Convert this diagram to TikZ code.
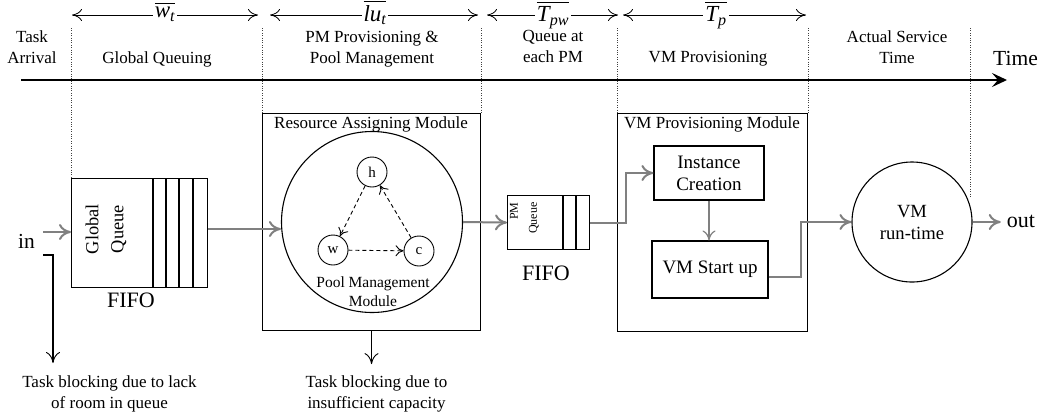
\documentclass[tikz,border=0pt]{standalone}
\usepackage{amsmath}
\usepackage{fontspec}
\setmainfont{Liberation Serif}
\usetikzlibrary{arrows.meta,calc}
\definecolor{linkgray}{gray}{0.5}
\begin{document}
\begin{tikzpicture}[x=1pt,y=-1pt,
  txt/.style={inner sep=0pt, align=center, font=\fontsize{17}{21}\selectfont},
  frame/.style={draw, line width=1.1pt, inner sep=0pt},
  state/.style={circle, draw, line width=0.9pt, minimum size=30pt, inner sep=0pt, font=\fontsize{15}{17}\selectfont},
  divider/.style={draw=black!75, line width=0.8pt, dash pattern=on 0.8pt off 1.6pt},
  timeaxis/.style={line width=2.6pt, -{Stealth[length=15pt,width=14pt,inset=6pt]}},
  span/.style={line width=0.8pt, {Computer Modern Rightarrow[length=10pt,width=12pt]}-{Computer Modern Rightarrow[length=10pt,width=12pt]}},
  spanlbl/.style={fill=white, inner xsep=2pt, inner ysep=0pt, font=\fontsize{23}{25}\selectfont},
  gconn/.style={draw=linkgray, line width=2pt, -{Computer Modern Rightarrow[length=12pt,width=16pt]}},
  gthin/.style={draw=linkgray, line width=1.2pt, -{Computer Modern Rightarrow[length=10pt,width=13pt]}},
  bconn/.style={line width=1.1pt, -{Computer Modern Rightarrow[length=11pt,width=14pt,line width=0.9pt]}},
  dasharrow/.style={line width=0.9pt, dash pattern=on 4pt off 3pt, -{Computer Modern Rightarrow[length=8pt,width=11pt]}}
]
\useasboundingbox (0,0) rectangle (1043,416);

% ---- queue at the front ----
\node[frame, minimum width=136pt, minimum height=109pt, anchor=north west] (gq) at (71,178) {};
\foreach \sx in {153,166,179,193} \draw[line width=1.1pt] (\sx,178) -- (\sx,287);
\node[txt, rotate=90, font=\fontsize{18.4}{25}\selectfont] (gqlbl) at (106,229) {Global\\Queue};
\node[txt, font=\fontsize{22}{24}\selectfont] (fifo1) at (131,300) {FIFO};

% ---- resource assigning module ----
\node[frame, minimum width=218pt, minimum height=217pt, anchor=north west] (ram) at (262,113) {};
\node[txt] (ramlbl) at (371,124.5) {Resource Assigning Module};
\node[circle, draw, line width=1.1pt, minimum size=181pt, inner sep=0pt] (pool) at (372,222) {};
\node[state] (h) at (372,172) {h};
\node[state] (w) at (333,250) {w};
\node[state] (c) at (419,251) {c};
\node[txt, font=\fontsize{15.5}{19}\selectfont] (poollbl) at (373,292) {Pool Management\\Module};
\draw[dasharrow] (h) -- (w);
\draw[dasharrow] (w) -- (c);
\draw[dasharrow] (c) -- (h);

% ---- queue at each PM ----
\node[frame, minimum width=82pt, minimum height=54pt, anchor=north west] (pmq) at (507,195) {};
\foreach \sx in {563,576} \draw[line width=1.1pt] (\sx,195) -- (\sx,249);
\node[txt, rotate=90, align=right, font=\fontsize{12}{19}\selectfont] (pmqlbl) at (524.5,218) {PM\\Queue};
\node[txt, font=\fontsize{22}{24}\selectfont] (fifo2) at (546,273.5) {FIFO};

% ---- VM provisioning module ----
\node[frame, minimum width=190pt, minimum height=218pt, anchor=north west] (vmm) at (617,113) {};
\node[txt] (vmmlbl) at (712,124) {VM Provisioning Module};
\node[frame, minimum width=110pt, minimum height=54pt, align=center, font=\fontsize{19}{22}\selectfont] (ic) at (709,173) {Instance\\Creation};
\node[frame, minimum width=116pt, minimum height=57pt, font=\fontsize{19}{22}\selectfont] (vs) at (710,269.5) {VM Start up};

% ---- run time ----
\node[circle, draw, line width=1.1pt, minimum size=120pt, inner sep=0pt, align=center, font=\fontsize{18.6}{22}\selectfont] (vmr) at (912,222) {VM\\run-time};
\node[txt, font=\fontsize{22}{24}\selectfont] (out) at (1021,221.6) {out};
\node[txt, font=\fontsize{21.4}{24}\selectfont] (inlbl) at (26.5,241) {in};

% ---- phase dividers ----
\draw[divider] (gq.north west |- 0,28) -- (gq.north west);
\draw[divider] (ram.north west |- 0,28) -- (ram.north west);
\draw[divider] (ram.north east |- 0,28) -- (ram.north east);
\draw[divider] (vmm.north west |- 0,28) -- (vmm.north west);
\draw[divider] (vmm.north east |- 0,28) -- (vmm.north east);
\draw[divider] (970,28) -- (970,197);

% ---- time axis and phase headings ----
\coordinate (t0) at (21,80);
\coordinate (t1) at (1007,80);
\draw[timeaxis] (t0) -- (t1);
\node[txt, font=\fontsize{21.5}{24}\selectfont] (timelbl) at (1015.5,58) {Time};
\node[txt] (ph1) at (32,46.8) {Task\\Arrival};
\node[txt] (ph2) at (157,59) {Global Queuing};
\node[txt] (ph3) at (372,48.7) {PM Provisioning \&\\Pool Management};
\node[txt] (ph4) at (553,46.8) {Queue at\\each PM};
\node[txt] (ph5) at (708,59) {VM Provisioning};
\node[txt] (ph6) at (897,46.8) {Actual Service\\Time};

% ---- mean durations ----
\draw[span] (72,15) -- (258,15);
\node[spanlbl] (lw) at (165,12) {$\overline{\textit{w}_{\textit{t}}}$};
\draw[span] (270,15) -- (478,15);
\node[spanlbl] (llu) at (375,12.5) {$\overline{\textit{lu}_{\textit{t}}}$};
\draw[span] (487,15) -- (618,15);
\node[spanlbl] (lpw) at (553,15) {$\overline{\textit{T}_{\textit{pw}}}$};
\draw[span] (623,15) -- (806,15);
\node[spanlbl] (lp) at (716,15) {$\overline{\textit{T}_{\textit{p}}}$};

% ---- task flow ----
\coordinate (inp) at (43,232);
\draw[gconn] (inp) -- (inp -| gq.west);
\draw[gconn] (gq.east |- 0,229) -- (pool.west |- 0,229);
\draw[gconn] (pool.east) -- (pmq.west);
\draw[gconn] (pmq.east) -- ++(36,0) |- (ic.west);
\draw[gthin] (ic.south) -- (ic.south |- vs.north);
\draw[gconn] ($(vs.east)+(0,7)$) -- ++(32,0) |- (vmr.west);
\draw[gconn, shorten >=6pt] (vmr.east) -- (vmr.east -| out.west);

% ---- blocking ----
\coordinate (blk) at (43,255);
\coordinate (blkend) at (53,363);
\draw[bconn] (blk) -| (blkend);
\node[txt] (blk1) at (109.5,393.7) {Task blocking due to lack\\of room in queue};
\draw[bconn] (ram.south) -- ++(0,33);
\node[txt] (blk2) at (376.5,393.7) {Task blocking due to\\insufficient capacity};
\end{tikzpicture}
\end{document}
